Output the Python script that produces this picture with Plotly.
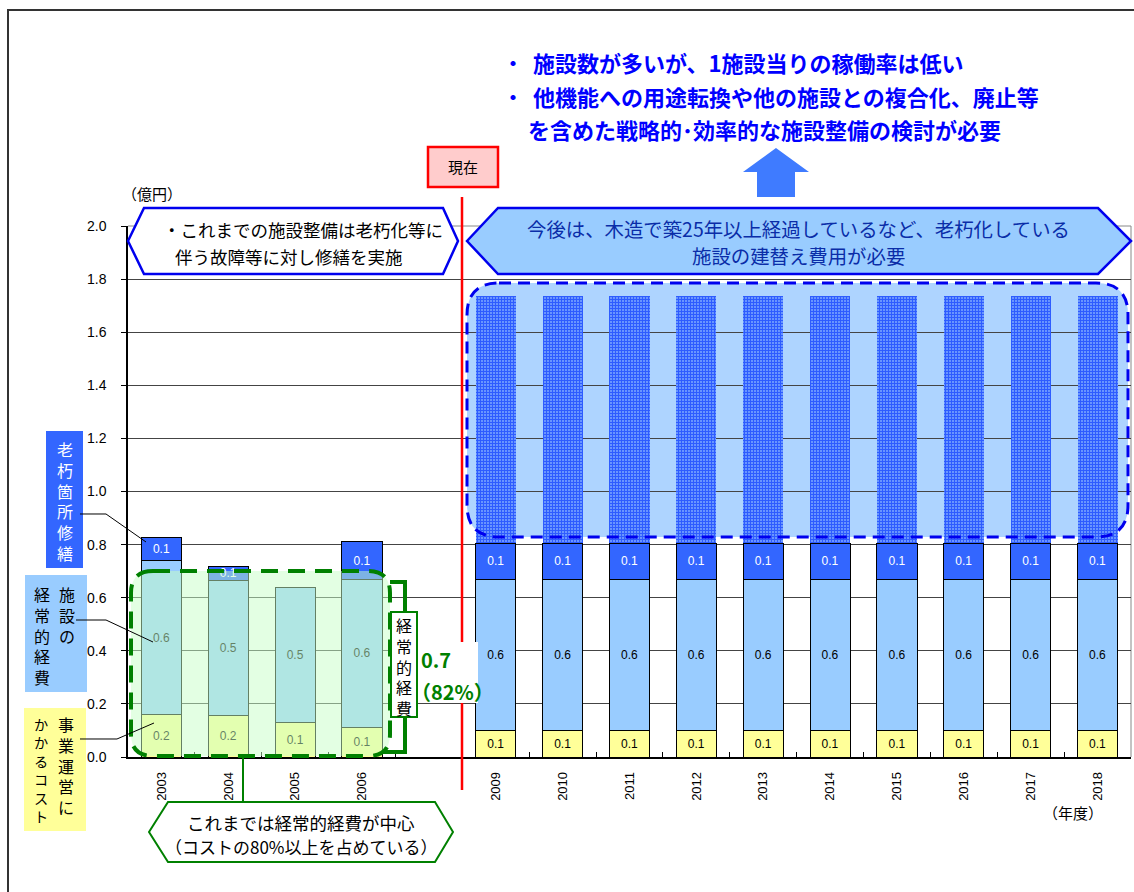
import plotly.graph_objects as go

# ---- data (億円) ----
slots = ["2003", "2004", "2005", "2006", " ", "2009", "2010", "2011", "2012",
         "2013", "2014", "2015", "2016", "2017", "2018"]
years = ["2003", "2004", "2005", "2006", "2009", "2010", "2011", "2012",
         "2013", "2014", "2015", "2016", "2017", "2018"]
operation_cost = [0.16, 0.156, 0.13, 0.11, 0.10, 0.10, 0.10, 0.10, 0.10,
                  0.10, 0.10, 0.10, 0.10, 0.10]
facility_running = [0.58, 0.51, 0.51, 0.56, 0.57, 0.57, 0.57, 0.57, 0.57,
                    0.57, 0.57, 0.57, 0.57, 0.57]
aging_repair = [0.085, 0.052, None, 0.14, 0.135, 0.135, 0.135, 0.135, 0.135,
                0.135, 0.135, 0.135, 0.135, 0.135]
rebuild_cost = [None, None, None, None, 0.93, 0.93, 0.93, 0.93, 0.93,
                0.93, 0.93, 0.93, 0.93, 0.93]

CJK = "Noto Sans CJK JP"
LAT = "Liberation Sans, Noto Sans CJK JP"

# plot area in pixels
W, H = 1134, 892
L, R, T, B = 128, 1131, 226, 757


def px(x):
    return (x - L) / (R - L)


def py(y):
    return (B - y) / (B - T)


def path(points, close=True):
    s = "M " + " L ".join(f"{px(x):.5f},{py(y):.5f}" for x, y in points)
    return s + (" Z" if close else "")


def rrect(x0, y0, x1, y1, r):
    p = lambda x, y: f"{px(x):.5f},{py(y):.5f}"
    return (f"M {p(x0 + r, y0)} L {p(x1 - r, y0)} Q {p(x1, y0)} {p(x1, y0 + r)} "
            f"L {p(x1, y1 - r)} Q {p(x1, y1)} {p(x1 - r, y1)} L {p(x0 + r, y1)} "
            f"Q {p(x0, y1)} {p(x0, y1 - r)} L {p(x0, y0 + r)} Q {p(x0, y0)} {p(x0 + r, y0)} Z")


def hexagon(xl, xi0, xi1, xr, y0, y1):
    ym = (y0 + y1) / 2
    return path([(xl, ym), (xi0, y0), (xi1, y0), (xr, ym), (xi1, y1), (xi0, y1)])


fig = go.Figure()

fig.add_trace(go.Bar(
    name="事業運営にかかるコスト", x=years, y=operation_cost,
    marker=dict(color="#FFFF99", line=dict(color="#000", width=1)),
    texttemplate="%{y:.1f}", textposition="inside", insidetextanchor="middle",
    textfont=dict(color="#000", size=12, family=LAT)))
fig.add_trace(go.Bar(
    name="施設の経常的経費", x=years, y=facility_running,
    marker=dict(color="#99CCFF", line=dict(color="#000", width=1)),
    texttemplate="%{y:.1f}", textposition="inside", insidetextanchor="middle",
    textfont=dict(color="#000", size=12, family=LAT)))
fig.add_trace(go.Bar(
    name="老朽箇所修繕", x=years, y=aging_repair,
    marker=dict(color="#3366FF", line=dict(color="#000", width=1)),
    texttemplate="%{y:.1f}", textposition="inside", insidetextanchor="middle",
    constraintext="none",
    textfont=dict(color="#fff", size=12, family=LAT)))
fig.add_trace(go.Bar(
    name="建替え費用", x=years, y=rebuild_cost,
    marker=dict(color="#3366FF", line=dict(width=0),
                pattern=dict(shape="+", fgcolor="#2E5CFF", bgcolor="#8DB8FF",
                             size=3, solidity=0.7, fillmode="replace"))))

shapes = []
ann = []

# outer frame
shapes.append(dict(type="rect", xref="paper", yref="paper", x0=px(8), y0=py(10),
                   x1=px(1160), y1=py(920), line=dict(color="#333", width=2),
                   fillcolor="rgba(0,0,0,0)", layer="below"))
# plot border (top/right)
shapes.append(dict(type="path", xref="paper", yref="paper",
                   path=path([(L, T), (R, T), (R, B)], close=False),
                   line=dict(color="#888", width=1), layer="below"))

# blue rounded area (future rebuild)
shapes.append(dict(type="path", xref="paper", yref="paper",
                   path=rrect(467, 283, 1128, 537, 32),
                   fillcolor="rgba(160,205,255,0.85)", line=dict(width=0), layer="between"))
shapes.append(dict(type="path", xref="paper", yref="paper",
                   path=rrect(467, 283, 1128, 537, 32),
                   line=dict(color="#0000EE", width=3, dash="12px,7px"), layer="above"))

# green rounded area (past running costs)
shapes.append(dict(type="path", xref="paper", yref="paper",
                   path=rrect(131, 571, 390, 756, 22),
                   fillcolor="rgba(200,255,200,0.5)",
                   line=dict(color="#008000", width=4, dash="17px,10px"), layer="above"))
# green bracket
shapes.append(dict(type="path", xref="paper", yref="paper",
                   path=path([(390, 582), (405, 582), (405, 752), (383, 752)], close=False),
                   line=dict(color="#008000", width=4), layer="above"))

# red "now" line
shapes.append(dict(type="line", xref="paper", yref="paper", x0=px(462), x1=px(462),
                   y0=py(197), y1=py(790), line=dict(color="#FF0000", width=2.5), layer="above"))
# white box behind 0.7 (82%)
shapes.append(dict(type="rect", xref="paper", yref="paper", x0=px(414), x1=px(478),
                   y0=py(642), y1=py(703), fillcolor="#fff", line=dict(width=0), layer="above"))
# white box for 経常的経費
shapes.append(dict(type="rect", xref="paper", yref="paper", x0=px(391), x1=px(417),
                   y0=py(612), y1=py(717), fillcolor="#fff",
                   line=dict(color="#008000", width=2), layer="above"))

# hexagon callouts
shapes.append(dict(type="path", xref="paper", yref="paper",
                   path=hexagon(128, 144, 443, 458, 208, 274),
                   fillcolor="#fff", line=dict(color="#0000EE", width=2.5), layer="above"))
shapes.append(dict(type="path", xref="paper", yref="paper",
                   path=hexagon(467, 498, 1098, 1131, 208, 274),
                   fillcolor="#99CCFF", line=dict(color="#0000EE", width=2.5), layer="above"))
shapes.append(dict(type="path", xref="paper", yref="paper",
                   path=hexagon(149, 168, 435, 453, 802, 862),
                   fillcolor="#fff", line=dict(color="#008000", width=2), layer="above"))
shapes.append(dict(type="line", xref="paper", yref="paper", x0=px(243), x1=px(243),
                   y0=py(758), y1=py(802), line=dict(color="#008000", width=2), layer="above"))

# up arrow
shapes.append(dict(type="path", xref="paper", yref="paper",
                   path=path([(776, 148), (809, 172), (795, 172), (795, 197),
                              (757, 197), (757, 172), (743, 172)]),
                   fillcolor="#3F7BFF", line=dict(width=0), layer="above"))
# 現在 box
shapes.append(dict(type="rect", xref="paper", yref="paper", x0=px(428), x1=px(498),
                   y0=py(147), y1=py(187), fillcolor="#FFCCCC",
                   line=dict(color="#FF0000", width=2.5), layer="above"))

# legend boxes on the left
shapes.append(dict(type="rect", xref="paper", yref="paper", x0=px(46), x1=px(83),
                   y0=py(431), y1=py(568), fillcolor="#3366FF", line=dict(width=0), layer="above"))
shapes.append(dict(type="rect", xref="paper", yref="paper", x0=px(25), x1=px(87),
                   y0=py(575), y1=py(692), fillcolor="#99CCFF", line=dict(width=0), layer="above"))
shapes.append(dict(type="rect", xref="paper", yref="paper", x0=px(24), x1=px(86),
                   y0=py(708), y1=py(831), fillcolor="#FFFF99", line=dict(width=0), layer="above"))
# leader lines
for pts in [[(80, 514), (106, 514), (146, 542)],
            [(76, 620), (106, 620), (153, 642)],
            [(80, 739), (117, 739), (154, 723)]]:
    shapes.append(dict(type="path", xref="paper", yref="paper", path=path(pts, close=False),
                       line=dict(color="#000", width=1), layer="above"))


def text(t, x, y, size, color="#000", xa="center", ya="middle", family=CJK, align="center"):
    ann.append(dict(text=t, x=px(x), y=py(y), xref="paper", yref="paper", showarrow=False,
                    xanchor=xa, yanchor=ya, align=align, borderpad=0,
                    font=dict(size=size, color=color, family=family)))


def vtext(s, x, ytop, size, color="#000"):
    # vertical (tategaki) column as one multi-line annotation
    ann.append(dict(text="<br>".join(s), x=px(x), y=py(ytop), xref="paper", yref="paper",
                    showarrow=False, xanchor="center", yanchor="top", borderpad=0,
                    font=dict(size=size, color=color, family=CJK)))


# top messages
text("<b>・</b>", 513, 62, 20, "#0000FF")
text("<b>施設数が多いが、1施設当りの稼働率は低い</b>", 532, 62, 22, "#0000FF", xa="left")
text("<b>・</b>", 513, 96, 20, "#0000FF")
text("<b>他機能への用途転換や他の施設との複合化、廃止等</b>", 532, 96, 22, "#0000FF", xa="left")
text("<b>を含めた戦略的･効率的な施設整備の検討が必要</b>", 527, 129, 22, "#0000FF", xa="left")

text("現在", 463, 167, 15)
text("（億円）", 152, 193, 15)
text("（年度）", 1073, 812, 15)

text("・これまでの施設整備は老朽化等に", 162, 230, 17.5, xa="left")
text("伴う故障等に対し修繕を実施", 174, 256, 17.5, xa="left")
text("今後は、木造で築25年以上経過しているなど、老朽化している", 798, 229, 19.4, "#0A2DA8")
text("施設の建替え費用が必要", 798, 255, 19.4, "#0A2DA8")
text("これまでは経常的経費が中心", 301, 822, 17.5)
text("（コストの80%以上を占めている）", 301, 846, 17)

text("<b>0.7</b>", 420, 659, 20, "#008000", xa="left")
text("<b>（82%）</b>", 410, 691, 20, "#008000", xa="left")
vtext("経常的経費", 404, 612, 16)

vtext("老朽箇所修繕", 64.5, 436, 16, "#fff")
vtext("施設の", 67, 581, 16)
vtext("経常的経費", 42, 581, 16)
vtext("事業運営に", 66, 711, 16)
vtext("かかるコスト", 41, 713, 14.2)

fig.update_layout(
    width=W, height=H,
    margin=dict(l=L, r=W - R, t=T, b=H - B, autoexpand=False),
    barmode="stack", bargap=0.4, showlegend=False,
    plot_bgcolor="#fff", paper_bgcolor="#fff",
    font=dict(family=LAT, color="#000"),
    xaxis=dict(type="category", categoryorder="array", categoryarray=slots,
               range=[-0.5, 14.5], tickangle=-90, tickfont=dict(size=13, family=LAT),
               ticks="inside", tickson="boundaries", ticklen=5, tickcolor="#000",
               showline=True, linecolor="#000", linewidth=1.5, showgrid=False,
               ticklabelstandoff=8, automargin=False),
    yaxis=dict(range=[0, 2.0], dtick=0.2, tickformat=".1f", showgrid=True,
               gridcolor="#444", gridwidth=1, zeroline=False, showline=True,
               linecolor="#000", linewidth=1.5, ticks="outside", ticklen=5,
               tickcolor="#000", tickfont=dict(size=14, family=LAT),
               ticklabelstandoff=12, automargin=False),
    shapes=shapes, annotations=ann,
)

# remove the default page margin so the figure sits at the window origin
fig.write_html("out.html", config={"displayModeBar": False},
               post_script="document.body.style.margin='0';")
